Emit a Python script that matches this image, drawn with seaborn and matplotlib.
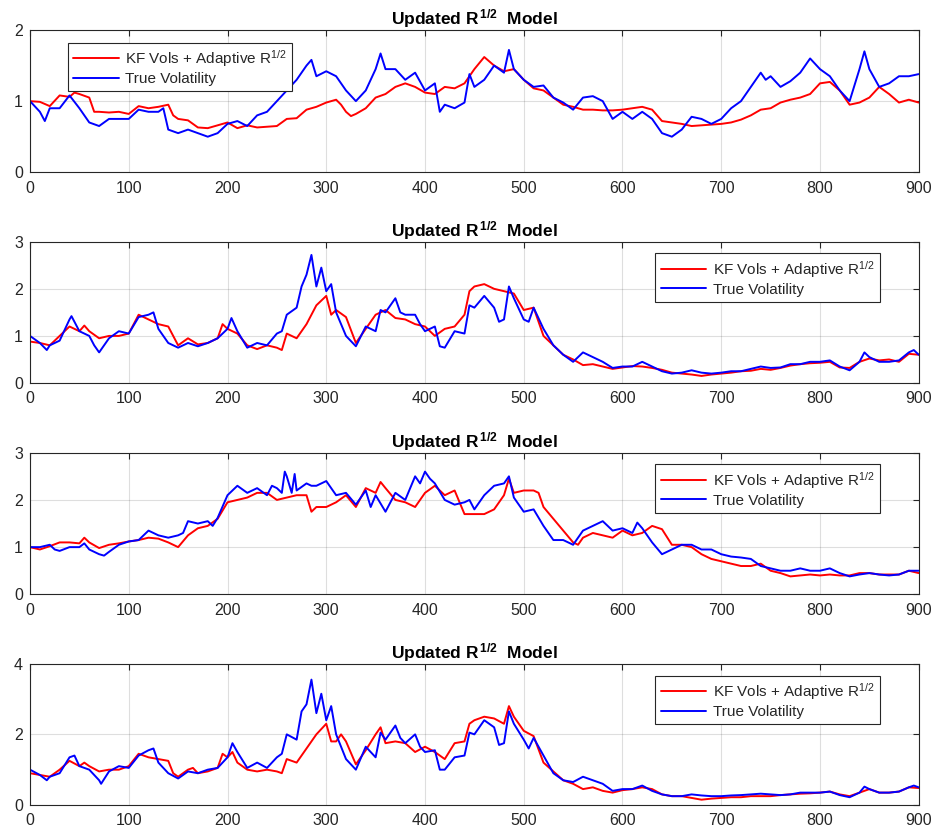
import matplotlib
matplotlib.use("Agg")
import matplotlib.pyplot as plt
import seaborn as sns
import pandas as pd

# ---------------- data ----------------
x_ticks = [0, 100, 200, 300, 400, 500, 600, 700, 800, 900]

s1_kf = [(0,1.0),(10,0.99),(20,0.93),(30,1.08),(40,1.06),(45,1.12),(50,1.1),(60,1.05),(65,0.85),(70,0.85),(80,0.84),(90,0.85),(100,0.82),(110,0.93),(120,0.9),(130,0.92),(140,0.95),(145,0.8),(150,0.75),(160,0.73),(170,0.63),(180,0.62),(190,0.66),(200,0.7),(210,0.62),(220,0.66),(230,0.63),(240,0.64),(250,0.65),(260,0.75),(270,0.76),(280,0.88),(290,0.92),(300,0.98),(310,1.02),(315,0.95),(320,0.85),(325,0.79),(330,0.82),(340,0.9),(350,1.05),(360,1.1),(370,1.2),(380,1.25),(390,1.2),(400,1.12),(410,1.1),(420,1.2),(430,1.18),(440,1.25),(450,1.45),(460,1.62),(470,1.5),(480,1.42),(490,1.45),(500,1.3),(510,1.18),(520,1.15),(530,1.05),(540,0.95),(550,0.92),(560,0.88),(570,0.88),(580,0.87),(590,0.87),(600,0.88),(610,0.9),(620,0.92),(630,0.88),(640,0.72),(650,0.7),(660,0.68),(670,0.65),(680,0.66),(690,0.67),(700,0.68),(710,0.7),(720,0.74),(730,0.8),(740,0.88),(750,0.9),(760,0.98),(770,1.02),(780,1.05),(790,1.1),(800,1.25),(810,1.27),(820,1.15),(830,0.95),(840,0.98),(850,1.05),(860,1.2),(870,1.1),(880,0.98),(890,1.02),(900,0.98)]
s1_true = [(0,1.0),(10,0.85),(15,0.72),(20,0.9),(30,0.9),(40,1.08),(50,0.9),(60,0.7),(70,0.65),(80,0.75),(90,0.75),(100,0.75),(110,0.88),(120,0.85),(130,0.85),(135,0.9),(140,0.6),(150,0.55),(160,0.6),(170,0.55),(180,0.5),(190,0.55),(200,0.68),(210,0.72),(220,0.65),(230,0.8),(240,0.85),(250,1.0),(260,1.15),(270,1.3),(280,1.5),(285,1.58),(290,1.35),(300,1.42),(310,1.35),(320,1.15),(330,1.0),(340,1.15),(350,1.45),(355,1.67),(360,1.45),(370,1.45),(380,1.3),(390,1.4),(400,1.15),(410,1.25),(415,0.85),(420,0.95),(430,0.9),(440,0.98),(445,1.38),(450,1.2),(460,1.3),(470,1.5),(480,1.4),(485,1.72),(490,1.45),(500,1.3),(510,1.2),(520,1.22),(530,1.05),(540,0.98),(550,0.88),(560,1.05),(570,1.07),(580,1.0),(590,0.75),(600,0.85),(610,0.75),(620,0.85),(630,0.75),(640,0.55),(650,0.5),(660,0.6),(670,0.78),(680,0.75),(690,0.68),(700,0.75),(710,0.9),(720,1.0),(730,1.2),(740,1.4),(745,1.3),(750,1.35),(760,1.2),(770,1.28),(780,1.4),(790,1.6),(800,1.45),(810,1.35),(820,1.15),(830,1.0),(840,1.45),(845,1.7),(850,1.45),(860,1.2),(870,1.25),(880,1.35),(890,1.35),(900,1.38)]

s2_kf = [(0,0.88),(10,0.85),(20,0.8),(30,1.0),(40,1.2),(50,1.1),(55,1.22),(60,1.1),(70,0.95),(80,1.0),(90,1.0),(100,1.05),(110,1.45),(120,1.35),(130,1.25),(140,1.2),(150,0.8),(160,0.95),(170,0.82),(180,0.85),(190,0.95),(195,1.25),(200,1.15),(210,1.05),(220,0.8),(230,0.72),(240,0.8),(250,0.75),(255,0.7),(260,1.05),(270,0.95),(280,1.25),(290,1.65),(300,1.85),(305,1.45),(310,1.55),(320,1.4),(330,0.85),(340,1.15),(350,1.45),(360,1.55),(370,1.38),(380,1.35),(390,1.25),(400,1.2),(410,1.0),(420,1.15),(430,1.2),(440,1.45),(445,1.95),(450,2.05),(460,2.1),(470,2.0),(480,1.95),(490,1.9),(500,1.55),(510,1.6),(520,1.0),(530,0.8),(540,0.6),(550,0.5),(560,0.38),(570,0.4),(580,0.35),(590,0.3),(600,0.33),(610,0.36),(620,0.35),(630,0.32),(640,0.28),(650,0.22),(660,0.2),(670,0.18),(680,0.15),(690,0.18),(700,0.2),(710,0.22),(720,0.25),(730,0.26),(740,0.3),(750,0.28),(760,0.32),(770,0.37),(780,0.4),(790,0.42),(800,0.43),(810,0.45),(820,0.33),(830,0.32),(840,0.45),(850,0.52),(860,0.48),(870,0.5),(880,0.45),(890,0.62),(900,0.6)]
s2_true = [(0,1.0),(10,0.85),(17,0.7),(20,0.8),(30,0.9),(40,1.35),(42,1.42),(50,1.1),(60,1.0),(65,0.8),(70,0.65),(80,0.95),(90,1.1),(100,1.05),(110,1.4),(120,1.45),(125,1.5),(130,1.15),(140,0.85),(150,0.75),(160,0.85),(170,0.78),(180,0.85),(190,0.95),(200,1.15),(204,1.38),(210,1.1),(220,0.75),(230,0.85),(240,0.8),(250,1.05),(255,1.1),(260,1.45),(270,1.6),(275,2.05),(280,2.3),(285,2.72),(290,2.05),(295,2.45),(300,1.95),(305,2.1),(310,1.5),(320,1.0),(330,0.78),(340,1.2),(350,1.1),(355,1.55),(360,1.5),(370,1.8),(375,1.5),(380,1.45),(390,1.45),(395,1.25),(400,1.1),(410,1.2),(415,0.78),(420,0.75),(430,1.1),(440,1.05),(445,1.65),(450,1.6),(460,1.85),(470,1.6),(475,1.3),(480,1.35),(485,2.05),(490,1.8),(500,1.35),(505,1.3),(510,1.6),(520,1.15),(530,0.8),(540,0.6),(550,0.45),(560,0.65),(570,0.55),(580,0.45),(590,0.32),(600,0.35),(610,0.35),(620,0.45),(630,0.35),(640,0.25),(650,0.2),(660,0.22),(670,0.27),(680,0.22),(690,0.2),(700,0.22),(710,0.25),(720,0.25),(730,0.3),(740,0.35),(750,0.32),(760,0.33),(770,0.4),(780,0.4),(790,0.45),(800,0.45),(810,0.48),(820,0.35),(830,0.27),(840,0.45),(845,0.65),(850,0.55),(860,0.45),(870,0.45),(880,0.48),(890,0.65),(895,0.7),(900,0.6)]

s3_kf = [(0,1.0),(10,0.95),(20,1.02),(30,1.1),(40,1.1),(50,1.08),(55,1.2),(60,1.1),(70,0.98),(80,1.05),(90,1.08),(100,1.12),(110,1.15),(120,1.2),(130,1.18),(140,1.1),(150,1.0),(160,1.25),(170,1.4),(180,1.45),(190,1.6),(200,1.95),(210,2.0),(220,2.05),(230,2.15),(240,2.15),(250,2.0),(260,2.05),(270,2.1),(280,2.1),(285,1.75),(290,1.85),(300,1.85),(310,1.95),(320,2.1),(330,1.85),(340,2.25),(350,2.15),(355,2.38),(360,2.25),(370,2.0),(380,1.95),(390,1.85),(400,2.15),(410,2.3),(420,2.1),(430,2.2),(440,1.7),(450,1.7),(460,1.7),(470,1.8),(480,2.1),(485,2.45),(490,2.15),(500,2.2),(510,2.2),(515,2.15),(520,1.85),(530,1.6),(540,1.35),(550,1.1),(555,1.05),(560,1.2),(570,1.3),(580,1.25),(590,1.2),(600,1.35),(610,1.25),(620,1.3),(630,1.45),(640,1.38),(650,1.05),(660,1.05),(670,1.0),(680,0.85),(690,0.75),(700,0.7),(710,0.65),(720,0.6),(730,0.6),(740,0.65),(750,0.5),(760,0.45),(770,0.38),(780,0.4),(790,0.42),(800,0.4),(810,0.42),(820,0.4),(830,0.4),(840,0.45),(850,0.45),(860,0.42),(870,0.42),(880,0.42),(890,0.5),(900,0.45)]
s3_true = [(0,1.0),(10,1.0),(20,1.05),(25,0.95),(30,0.92),(40,1.0),(50,1.0),(55,1.08),(60,0.95),(70,0.85),(75,0.82),(80,0.9),(90,1.05),(100,1.12),(110,1.15),(120,1.35),(130,1.25),(140,1.2),(150,1.25),(155,1.3),(160,1.55),(170,1.5),(180,1.55),(185,1.45),(190,1.62),(200,2.1),(210,2.3),(220,2.15),(230,2.25),(240,2.1),(245,2.3),(250,2.25),(255,2.15),(258,2.6),(260,2.5),(265,2.15),(268,2.55),(270,2.2),(280,2.35),(285,2.3),(290,2.3),(300,2.4),(310,2.1),(320,2.15),(330,1.9),(340,2.2),(345,1.85),(350,2.1),(360,1.75),(370,2.15),(380,2.0),(390,2.5),(395,2.35),(400,2.6),(405,2.45),(410,2.35),(420,2.0),(430,1.9),(440,1.95),(445,2.0),(450,1.8),(460,2.1),(470,2.3),(480,2.35),(485,2.5),(490,2.05),(500,1.75),(510,1.8),(520,1.45),(530,1.15),(540,1.15),(550,1.05),(560,1.35),(570,1.45),(580,1.55),(590,1.35),(600,1.4),(610,1.3),(615,1.52),(620,1.4),(630,1.1),(640,0.85),(650,0.95),(660,1.05),(670,1.05),(680,0.95),(690,0.95),(700,0.85),(710,0.8),(720,0.78),(730,0.75),(740,0.6),(750,0.55),(760,0.5),(770,0.5),(780,0.55),(790,0.5),(800,0.5),(810,0.55),(820,0.45),(830,0.38),(840,0.42),(850,0.45),(860,0.42),(870,0.4),(880,0.42),(890,0.5),(900,0.5)]

s4_kf = [(0,0.9),(10,0.85),(20,0.8),(30,1.0),(40,1.25),(50,1.1),(55,1.2),(60,1.1),(70,0.95),(80,1.0),(90,1.0),(100,1.1),(110,1.45),(120,1.35),(130,1.3),(140,1.25),(145,0.9),(150,0.8),(160,1.0),(165,1.05),(170,0.9),(180,0.95),(190,1.05),(195,1.45),(200,1.35),(205,1.5),(210,1.2),(220,1.0),(230,0.95),(240,1.0),(250,0.95),(255,0.9),(260,1.3),(270,1.2),(280,1.6),(290,2.0),(300,2.3),(305,1.8),(310,1.8),(315,2.0),(320,1.8),(330,1.15),(340,1.55),(350,2.0),(355,2.2),(360,1.75),(370,1.8),(380,1.75),(390,1.5),(400,1.65),(410,1.5),(420,1.3),(430,1.75),(440,1.8),(445,2.3),(450,2.4),(460,2.5),(470,2.45),(480,2.3),(485,2.8),(490,2.5),(500,2.1),(510,1.95),(520,1.2),(530,0.95),(540,0.7),(550,0.6),(560,0.45),(570,0.5),(580,0.4),(590,0.35),(600,0.42),(610,0.45),(620,0.5),(630,0.45),(640,0.3),(650,0.25),(660,0.25),(670,0.2),(680,0.15),(690,0.18),(700,0.2),(710,0.22),(720,0.22),(730,0.25),(740,0.25),(750,0.25),(760,0.28),(770,0.3),(780,0.32),(790,0.33),(800,0.35),(810,0.38),(820,0.3),(830,0.25),(840,0.35),(850,0.45),(860,0.35),(870,0.35),(880,0.38),(890,0.5),(900,0.48)]
s4_true = [(0,1.0),(10,0.85),(17,0.7),(20,0.8),(30,0.9),(40,1.35),(45,1.4),(50,1.1),(60,1.0),(70,0.7),(72,0.6),(80,0.95),(90,1.1),(100,1.05),(110,1.4),(120,1.55),(125,1.6),(130,1.2),(140,0.9),(150,0.75),(160,0.95),(170,0.9),(180,1.0),(190,1.05),(200,1.35),(205,1.75),(210,1.5),(220,1.05),(230,1.2),(240,1.05),(250,1.35),(255,1.45),(260,2.0),(270,1.85),(275,2.65),(280,2.85),(285,3.55),(290,2.6),(295,3.15),(300,2.4),(305,2.8),(310,2.0),(320,1.3),(330,1.0),(340,1.65),(350,1.35),(355,2.05),(360,1.85),(370,2.25),(375,1.9),(380,1.75),(390,2.0),(395,1.65),(400,1.5),(410,1.55),(415,1.0),(420,1.0),(430,1.35),(440,1.4),(445,2.05),(450,2.0),(460,2.4),(470,2.2),(475,1.7),(480,1.75),(485,2.65),(490,2.3),(500,1.85),(505,1.6),(510,1.9),(520,1.4),(530,0.9),(540,0.7),(550,0.65),(560,0.8),(570,0.7),(580,0.6),(590,0.4),(600,0.45),(610,0.45),(620,0.55),(630,0.4),(640,0.3),(650,0.25),(660,0.25),(670,0.3),(680,0.27),(690,0.25),(700,0.25),(710,0.27),(720,0.28),(730,0.3),(740,0.32),(750,0.3),(760,0.28),(770,0.3),(780,0.35),(790,0.35),(800,0.35),(810,0.38),(820,0.28),(830,0.22),(840,0.35),(845,0.52),(850,0.45),(860,0.35),(870,0.35),(880,0.38),(890,0.5),(895,0.55),(900,0.5)]

y_ticks = [[0, 1, 2], [0, 1, 2, 3], [0, 1, 2, 3], [0, 2, 4]]
titles = [r"Updated R$^{\,\mathbf{1/2}}$  Model"] * 4
label_kf = r"KF Vols + Adaptive R$^{1/2}$"
label_true = "True Volatility"

# ---------------- style ----------------
sns.set_theme(style="white")
plt.rcParams["font.family"] = ["Liberation Sans", "DejaVu Sans"]
plt.rcParams["mathtext.fontset"] = "custom"
plt.rcParams["mathtext.rm"] = "Liberation Sans"
plt.rcParams["mathtext.it"] = "Liberation Sans:italic"
plt.rcParams["mathtext.bf"] = "Liberation Sans:bold"
plt.rcParams["mathtext.default"] = "regular"

AX_COL = "#262626"
fig = plt.figure(figsize=(9.35, 8.31), dpi=100)

left, width = 0.0321, 0.9505
panels = [
    dict(kf=s1_kf, tr=s1_true, pos=[left, 0.7927, width, 0.1712], leg=("upper left", (0.0427, 0.911))),
    dict(kf=s2_kf, tr=s2_true, pos=[left, 0.5391, width, 0.1700], leg=("upper right", (0.956, 0.918))),
    dict(kf=s3_kf, tr=s3_true, pos=[left, 0.2848, width, 0.1704], leg=("upper right", (0.956, 0.918))),
    dict(kf=s4_kf, tr=s4_true, pos=[left, 0.0313, width, 0.1700], leg=("upper right", (0.956, 0.915))),
]

for i, p in enumerate(panels):
    ax = fig.add_axes(p["pos"])
    df_kf = pd.DataFrame(p["kf"], columns=["t", "v"])
    df_tr = pd.DataFrame(p["tr"], columns=["t", "v"])
    sns.lineplot(data=df_kf, x="t", y="v", color="#FF0000", lw=1.4, ax=ax,
                 estimator=None, sort=False, label=label_kf)
    sns.lineplot(data=df_tr, x="t", y="v", color="#0000FF", lw=1.4, ax=ax,
                 estimator=None, sort=False, label=label_true)
    ax.set_xlim(0, 900)
    ax.set_ylim(y_ticks[i][0], y_ticks[i][-1])
    ax.set_xticks(x_ticks)
    ax.set_yticks(y_ticks[i])
    ax.set_xlabel("")
    ax.set_ylabel("")
    ax.grid(True, color=AX_COL, alpha=0.15, lw=0.8)
    ax.set_axisbelow(True)
    for s in ax.spines.values():
        s.set_color(AX_COL)
        s.set_linewidth(0.8)
    ax.tick_params(axis="both", direction="in", top=True, right=True, length=4,
                   width=0.8, labelsize=11.5, colors=AX_COL)
    ax.tick_params(axis="x", pad=6)
    ax.tick_params(axis="y", pad=5)
    ax.set_title(titles[i], fontsize=12.5, fontweight="bold", pad=4, color="black")
    loc, anchor = p["leg"]
    leg = ax.legend(loc=loc, bbox_to_anchor=anchor, fontsize=11, frameon=True,
                    fancybox=False, edgecolor=AX_COL, framealpha=1,
                    handlelength=3.0, handletextpad=0.4, borderaxespad=0,
                    borderpad=0.35, labelspacing=0.2)
    leg.get_frame().set_linewidth(0.8)

fig.savefig("out.png", dpi=100, facecolor="white")
